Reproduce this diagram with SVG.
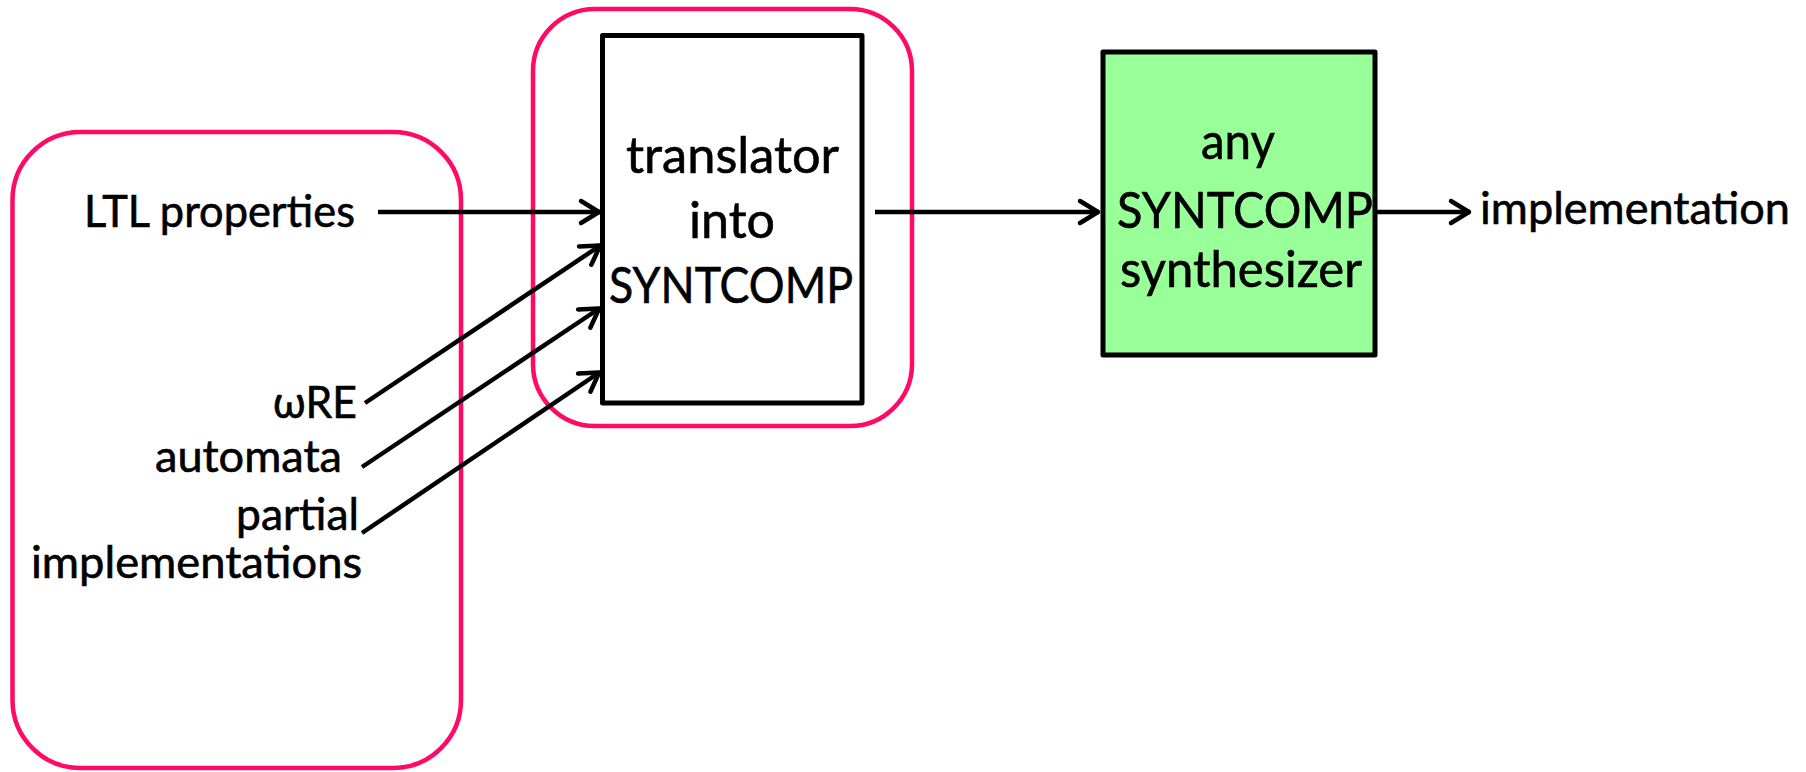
<svg xmlns="http://www.w3.org/2000/svg" width="1806" height="772" viewBox="0 0 1806 772">
  <style>
    .frame { fill: none; stroke: #FF0A64; stroke-width: 4.5; }
    .box { stroke: #000; stroke-width: 5; stroke-linejoin: round; }
    .lbl { font-family: Lato, "Noto Sans", "DejaVu Sans", sans-serif; fill: #000; stroke: #000; stroke-width: 0.6; }
    .out { font-size: 44px; }
    .in { font-size: 50px; }
    .wire { stroke: #000; stroke-width: 4.5; fill: none; marker-end: url(#chev); }
  </style>
  <defs>
    <marker id="chev" markerUnits="userSpaceOnUse" viewBox="-26 -16 30 32" markerWidth="30" markerHeight="32" refX="0" refY="0" orient="auto">
      <path d="M-19,-11 L-1,0 L-19,11" fill="none" stroke="#000" stroke-width="4.5" stroke-linecap="round" stroke-linejoin="round"/>
    </marker>
  </defs>
  <rect width="1806" height="772" fill="#fff"/>

  <!-- grouping outline round the input formats -->
  <g id="inputs-frame">
    <rect class="frame" x="12.5" y="132" width="448.5" height="636" rx="68" ry="68"/>
  </g>

  <!-- grouping outline round the translator -->
  <g id="translator-frame">
    <rect class="frame" x="533" y="9" width="379" height="417" rx="62" ry="62"/>
  </g>

  <g id="ltl">
    <text class="lbl out" x="84" y="227" textLength="271" lengthAdjust="spacingAndGlyphs">LTL properties</text>
  </g>
  <g id="wre">
    <text class="lbl out" x="273" y="418" textLength="84" lengthAdjust="spacingAndGlyphs">ωRE</text>
  </g>
  <g id="automata">
    <text class="lbl out" x="155" y="472" textLength="187" lengthAdjust="spacingAndGlyphs">automata</text>
  </g>
  <g id="partial">
    <text class="lbl out" x="236" y="530" textLength="123" lengthAdjust="spacingAndGlyphs">partial</text>
    <text class="lbl out" x="31" y="578" textLength="331" lengthAdjust="spacingAndGlyphs">implementations</text>
  </g>

  <g id="translator">
    <rect class="box" x="602.5" y="35.5" width="259.5" height="367.5" fill="#fff"/>
    <text class="lbl in" x="626" y="173" textLength="213" lengthAdjust="spacingAndGlyphs">translator</text>
    <text class="lbl in" x="689" y="238" textLength="86" lengthAdjust="spacingAndGlyphs">into</text>
    <text class="lbl in" x="609" y="303" textLength="244" lengthAdjust="spacingAndGlyphs">SYNTCOMP</text>
  </g>

  <g id="synthesizer">
    <rect class="box" x="1103" y="52" width="272" height="303" fill="#99FF99"/>
    <text class="lbl in" x="1201" y="159" textLength="74" lengthAdjust="spacingAndGlyphs">any</text>
    <text class="lbl in" x="1117" y="228" textLength="256" lengthAdjust="spacingAndGlyphs">SYNTCOMP</text>
    <text class="lbl in" x="1120" y="287" textLength="242" lengthAdjust="spacingAndGlyphs">synthesizer</text>
  </g>

  <g id="implementation">
    <text class="lbl out" x="1480" y="224" textLength="310" lengthAdjust="spacingAndGlyphs">implementation</text>
  </g>

  <g id="connectors">
    <line class="wire" x1="378" y1="212" x2="600" y2="212"/>
    <line class="wire" x1="365" y1="403" x2="601" y2="245"/>
    <line class="wire" x1="362" y1="467" x2="600" y2="308"/>
    <line class="wire" x1="362" y1="533" x2="600" y2="372"/>
    <line class="wire" x1="875" y1="212" x2="1099" y2="212"/>
    <line class="wire" x1="1377" y1="212" x2="1470" y2="212"/>
  </g>
</svg>
